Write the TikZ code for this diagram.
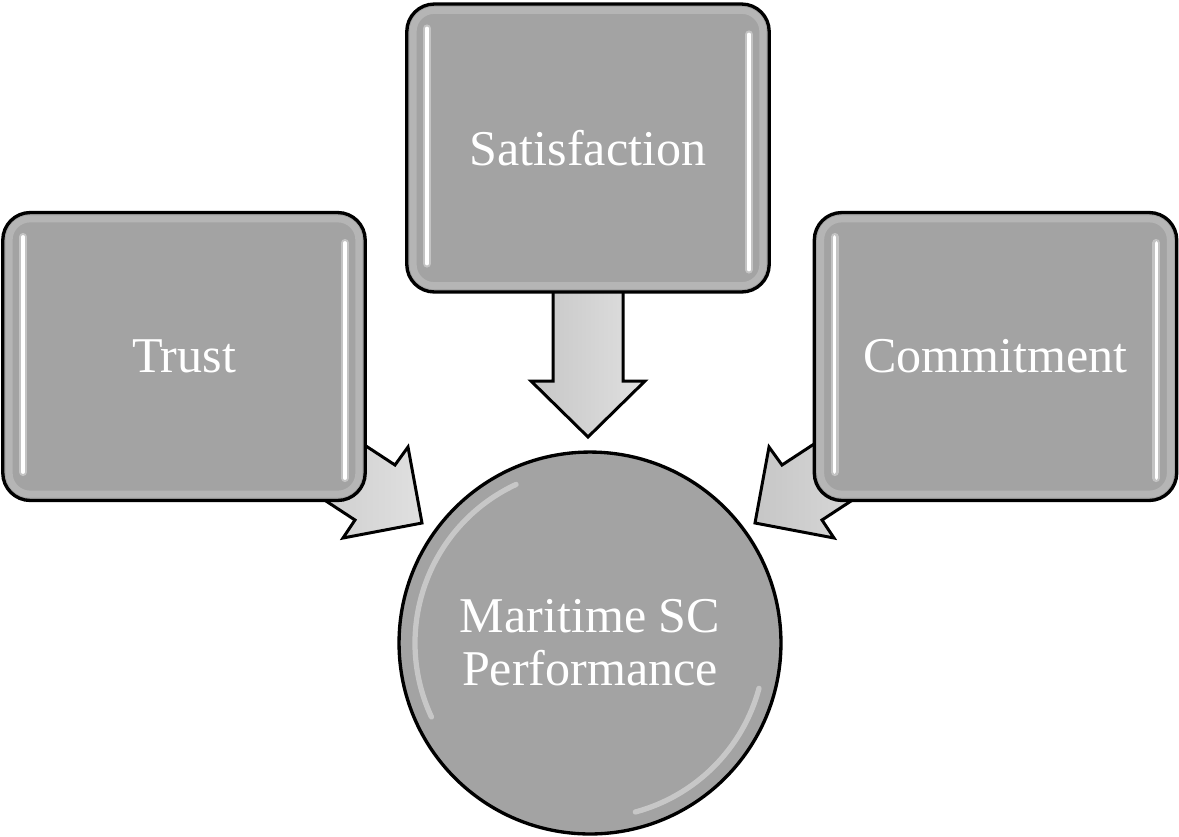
\documentclass[tikz,border=0pt]{standalone}
\usepackage{fontspec}
\setmainfont{Liberation Serif}
\usetikzlibrary{backgrounds,calc}
\definecolor{boxgray}{HTML}{A3A3A3}
\definecolor{arrowlight}{HTML}{E0E0E0}
\definecolor{arrowdark}{HTML}{C6C6C6}
\begin{document}
\begin{tikzpicture}[x=0.02cm,y=-0.02cm,
  box/.style={draw=black, line width=1.9pt, rounded corners=0.55cm, fill=boxgray,
    text=white, font=\fontsize{28.5}{30}\selectfont, minimum width=7.25cm,
    minimum height=5.76cm, inner sep=0pt},
  circ/.style={circle, draw=black, line width=1.9pt, fill=boxgray, text=white,
    font=\fontsize{28.5}{30}\selectfont, minimum size=7.64cm, align=center, inner sep=0pt},
  rim/.style={white, opacity=0.2, line width=4pt, rounded corners=0.42cm},
  hlglow/.style={white, opacity=0.35, line width=4.5pt, line cap=round},
  hl/.style={white, line width=2pt, line cap=round},
  blockarrow/.style={draw=black, line width=1.7pt, line join=miter,
    left color=arrowdark, right color=arrowlight}]
\useasboundingbox (0,0) rectangle (1179,836);

\node[box] (sat) at (588,148) {Satisfaction};
\node[box] (trust) at (184,356.5) {Trust};
\node[box] (comm) at (995.5,356.5) {Commitment};
\node[circ] (perf) at (590,643) {Maritime SC\\[0pt]Performance};

% box gloss
\foreach \b in {sat,trust,comm}{
  \draw[rim] ($(\b.north west)+(8,8)$) rectangle ($(\b.south east)+(-8,-8)$);
  \draw[hlglow] ($(\b.north west)+(22,26)$) -- ($(\b.south west)+(22,-30)$);
  \draw[hl] ($(\b.north west)+(22,26)$) -- ($(\b.south west)+(22,-30)$);
  \draw[hlglow] ($(\b.north east)+(-22,32)$) -- ($(\b.south east)+(-22,-24)$);
  \draw[hl] ($(\b.north east)+(-22,32)$) -- ($(\b.south east)+(-22,-24)$);
}
% circle gloss
\draw[white, opacity=0.4, line width=3pt, line cap=round]
  (perf.center) ++(115:3.5cm) arc[start angle=115, end angle=205, radius=3.5cm];
\draw[white, opacity=0.4, line width=3pt, line cap=round]
  (perf.center) ++(-15:3.5cm) arc[start angle=-15, end angle=-75, radius=3.5cm];

\begin{scope}[on background layer]
  % Satisfaction -> Performance
  \path[blockarrow] (553,270) -- (623,270) -- (623,381) -- (645,381) -- (588,437)
    -- (531,381) -- (553,381) -- cycle;
  % Trust -> Performance
  \path[blockarrow] (311,410) -- (395,465) -- (408,447) -- (422,523) -- (343,538)
    -- (355,520) -- (271,465) -- cycle;
  % Commitment -> Performance
  \path[blockarrow] (866,410) -- (782,465) -- (769,447) -- (755,523) -- (834,538)
    -- (822,520) -- (906,465) -- cycle;
\end{scope}
\end{tikzpicture}
\end{document}
